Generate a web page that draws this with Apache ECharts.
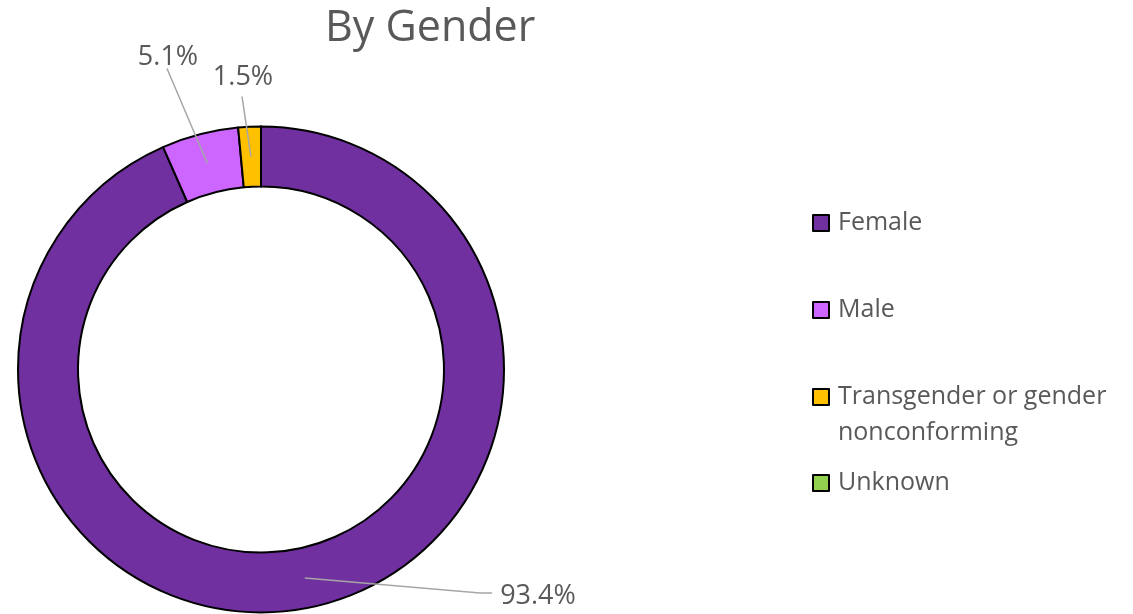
<!DOCTYPE html>
<html>
<head>
<meta charset="utf-8">
<script src="https://cdn.jsdelivr.net/npm/echarts@6/dist/echarts.min.js"></script>
<style>
html,body{margin:0;padding:0;background:#fff}
#chart{width:1133px;height:614px}
</style>
</head>
<body>
<div id="chart"></div>
<script>
// data
var categories = ['Female', 'Male', 'Transgender or gender nonconforming', 'Unknown'];
var shares = [93.4, 5.1, 1.5, 0];
var sliceColors = ['#7030A0', '#CC66FF', '#FFC000', '#92D050'];

// layout
var cx = 261, cy = 369.5, rIn = 183, rOut = 243;
var labelSpots = [[538, 596], [168, 57], [243, 77]];
var legendTops = [205, 292, 343, 465];
var font = 'Open Sans';

var myChart = echarts.init(document.getElementById('chart'));

var ringData = categories.map(function (name, i) {
    return { name: name, value: shares[i], itemStyle: { color: sliceColors[i] } };
});
// same values again, invisible, only to carry the labels above the ring
var labelData = categories.map(function (name, i) {
    var d = { name: name, value: shares[i] };
    if (shares[i] === 0) d.label = { show: false };
    return d;
});

var legends = categories.map(function (name, i) {
    return {
        data: [name],
        orient: 'vertical',
        left: 812,
        top: legendTops[i],
        padding: 0,
        icon: 'rect',
        itemWidth: 16,
        itemHeight: 16,
        selectedMode: false,
        itemStyle: { borderColor: '#000', borderWidth: 2 },
        formatter: function (n) {
            // blank first line keeps the marker on the first text line
            return n === 'Transgender or gender nonconforming' ? ' \nTransgender or gender\nnonconforming' : n;
        },
        textStyle: {
            fontFamily: font,
            fontSize: 25,
            color: '#595959',
            lineHeight: 36,
            padding: [0, 0, 0, 4]
        }
    };
});

myChart.setOption({
    animation: false,
    title: {
        text: 'By Gender',
        left: 320,
        top: 2,
        textStyle: { fontFamily: font, fontSize: 43, fontWeight: 'normal', color: '#595959' }
    },
    legend: legends,
    series: [{
        type: 'pie',
        z: 2,
        center: [cx, cy],
        radius: [rIn, rOut],
        startAngle: 90,
        clockwise: true,
        data: ringData,
        itemStyle: { borderColor: '#000', borderWidth: 2 },
        emphasis: { disabled: true },
        label: { show: false },
        labelLine: { show: false }
    }, {
        type: 'pie',
        z: 5,
        silent: true,
        center: [cx, cy],
        radius: [rIn, rOut],
        startAngle: 90,
        clockwise: true,
        data: labelData,
        itemStyle: { color: 'rgba(0,0,0,0)', borderWidth: 0 },
        emphasis: { disabled: true },
        label: {
            show: true,
            position: 'outside',
            fontFamily: font,
            fontSize: 27,
            color: '#595959',
            formatter: function (p) { return p.value.toFixed(1) + '%'; }
        },
        labelLine: { show: true, showAbove: true, lineStyle: { color: '#A6A6A6', width: 1.5 } },
        labelLayout: function (p) {
            var spot = labelSpots[p.dataIndex];
            if (!spot || !p.labelLinePoints) return {};
            var k = (rIn + rOut) / 2 / rOut;
            var p0 = p.labelLinePoints[0];
            var s = [cx + (p0[0] - cx) * k, cy + (p0[1] - cy) * k];
            var w = p.labelRect.width, h = p.labelRect.height;
            var line;
            if (p.dataIndex === 0) {
                line = [s, [spot[0] - w / 2 - 20, spot[1] - 3], [spot[0] - w / 2 - 8, spot[1] - 3]];
            } else {
                var e = [spot[0] - 1, spot[1] + h / 2 + (p.dataIndex === 2 ? 6 : -2)];
                line = [s, [(s[0] + e[0]) / 2, (s[1] + e[1]) / 2], e];
            }
            return { x: spot[0], y: spot[1], align: 'center', verticalAlign: 'middle', labelLinePoints: line };
        }
    }]
});
</script>
</body>
</html>
